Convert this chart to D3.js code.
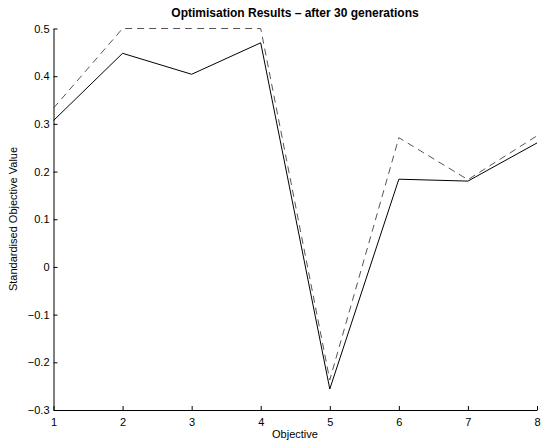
<!DOCTYPE html>
<html><head><meta charset="utf-8">
<script src="https://cdn.jsdelivr.net/npm/d3@7"></script>
<style>body{margin:0;background:#fff}svg{display:block}text{font-family:"Liberation Sans",Arial,sans-serif}</style>
</head><body><svg id="c" width="541" height="445"></svg>
<script>
const objectives = [1,2,3,4,5,6,7,8];
const solidValues = [0.307,0.448,0.404,0.470,-0.256,0.184,0.180,0.260];
const dashedValues = [0.333,0.500,0.500,0.500,-0.237,0.271,0.183,0.275];
const yTicks = [-0.3,-0.2,-0.1,0,0.1,0.2,0.3,0.4,0.5];
const xTicks = [1,2,3,4,5,6,7,8];

const svg = d3.select("#c");
const x = d3.scaleLinear().domain([1,8]).range([53.5,537]);
const y = d3.scaleLinear().domain([-0.3,0.5]).range([410,28.5]);

const fmt = v => v===0 ? "0" : (v<0 ? "\u2212"+Math.abs(v).toFixed(1).replace(/^0/,"0") : v.toFixed(1));

const gx = svg.append("g").attr("transform","translate(0,410)")
  .call(d3.axisBottom(x).tickValues(xTicks).tickSizeInner(-4).tickSizeOuter(0).tickPadding(8).tickFormat(d3.format("d")));
const gy = svg.append("g").attr("transform","translate(53.5,0)")
  .call(d3.axisLeft(y).tickValues(yTicks).tickSizeInner(-4).tickSizeOuter(0).tickPadding(4).tickFormat(fmt));
[gx,gy].forEach(g=>{
  g.select(".domain").attr("stroke","#000").attr("stroke-width",1);
  g.selectAll(".tick line").attr("stroke","#000");
  g.selectAll("text").attr("font-size",11).attr("fill","#000").attr("font-family","Liberation Sans, Arial, sans-serif");
});

const line = d3.line().x((d,i)=>x(objectives[i])).y(d=>y(d));
svg.append("path").datum(dashedValues).attr("d",line).attr("fill","none")
  .attr("stroke","#555").attr("stroke-width",1).attr("stroke-dasharray","7,5");
svg.append("path").datum(solidValues).attr("d",line).attr("fill","none")
  .attr("stroke","#000").attr("stroke-width",1);

svg.append("text").attr("x",295).attr("y",17).attr("text-anchor","middle")
  .attr("font-size",12).attr("font-weight","bold").text("Optimisation Results \u2013 after 30 generations");
svg.append("text").attr("x",295).attr("y",438).attr("text-anchor","middle")
  .attr("font-size",11).text("Objective");
svg.append("text").attr("transform","translate(17,219) rotate(-90)").attr("text-anchor","middle")
  .attr("font-size",11).text("Standardised Objective Value");
</script></body></html>
